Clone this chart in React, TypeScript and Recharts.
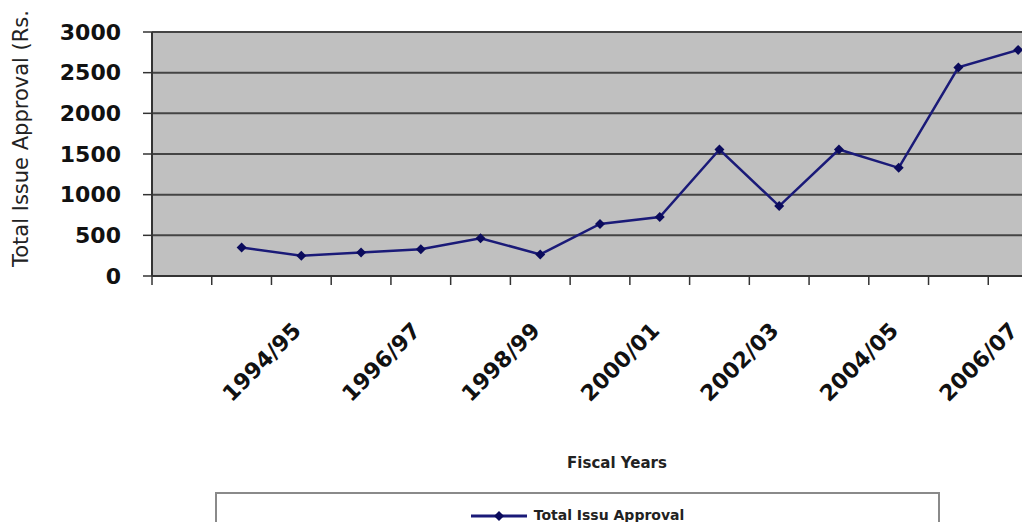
import { LineChart, Line, XAxis, YAxis, CartesianGrid, Legend } from 'recharts';

const fiscalYears = [
    '1993/94', '1994/95', '1995/96', '1996/97', '1997/98', '1998/99', '1999/00',
    '2000/01', '2001/02', '2002/03', '2003/04', '2004/05', '2005/06', '2006/07',
];
const approvals = [350, 250, 290, 330, 465, 265, 640, 725, 1555, 860, 1555, 1330, 2565, 2780];
const yTicks = [0, 500, 1000, 1500, 2000, 2500, 3000];
const seriesName = 'Total Issu Approval';

const FONT = '"DejaVu Sans", Arial, sans-serif';
const LINE = '#1a1a78';
const DOT = '#0b0b5c';

// one empty band before the first year, like the original sheet
const data = fiscalYears.map((fy, i) => ({ x: i + 0.5, fy, value: approvals[i] }));
const xTicks: number[] = [];
for (let i = -1; i <= fiscalYears.length; i++) {
    xTicks.push(i);
    if (i < fiscalYears.length) xTicks.push(i + 0.5);
}

const XTick = (props: any) => {
    const { x, y, payload } = props;
    const v = payload.value;
    if (Number.isInteger(v)) {
        return <line x1={x} y1={y} x2={x} y2={y + 9} stroke="#333" strokeWidth={1.5} />;
    }
    const idx = v - 0.5;
    if (idx < 0 || idx % 2 !== 1) return <g />;
    const tx = x + 1;
    const ty = y + 56;
    return (
        <text x={tx} y={ty} transform={`rotate(-45, ${tx}, ${ty})`} textAnchor="end"
            fontFamily={FONT} fontWeight="bold" fontSize={22} fill="#111">
            {fiscalYears[idx]}
        </text>
    );
};

const Diamond = (props: any) => {
    const { cx, cy, index } = props;
    if (cx == null || cy == null) return <g key={`d${index}`} />;
    const r = 5;
    return (
        <path key={`d${index}`} d={`M${cx},${cy - r}L${cx + r},${cy}L${cx},${cy + r}L${cx - r},${cy}Z`} fill={DOT} />
    );
};

const YTitle = (props: any) => {
    const { viewBox } = props;
    const tx = viewBox.x + 28;
    const ty = viewBox.y + 235;
    return (
        <text x={tx} y={ty} transform={`rotate(-90, ${tx}, ${ty})`} textAnchor="start"
            fontFamily={FONT} fontSize={21} fill="#222">
            Total Issue Approval (Rs.
        </text>
    );
};

const XTitle = (props: any) => {
    const { viewBox } = props;
    return (
        <text x={viewBox.x + viewBox.width / 2 + 17} y={viewBox.y + 192} textAnchor="middle"
            fontFamily={FONT} fontWeight="bold" fontSize={15} fill="#222">
            Fiscal Years
        </text>
    );
};

const LegendBox = () => (
    <div style={{
        width: 725, height: 60, boxSizing: 'border-box', border: '2px solid #8a8a8a', background: '#fff',
        display: 'flex', justifyContent: 'center', paddingTop: 13,
    }}>
        <svg width={58} height={12} style={{ marginRight: 5, marginTop: 3 }}>
            <line x1={0} y1={6} x2={56} y2={6} stroke={LINE} strokeWidth={3} />
            <path d="M28,1L33,6L28,11L23,6Z" fill={DOT} />
        </svg>
        <span style={{ fontFamily: FONT, fontWeight: 'bold', fontSize: 14, color: '#222' }}>{seriesName}</span>
    </div>
);

export default function App() {
    return (
        <div style={{ position: 'fixed', left: 0, top: 0, width: 1022, height: 522, overflow: 'hidden', background: '#fff' }}>
            <LineChart width={1060} height={522} data={data} margin={{ top: 32, right: 12, left: 0, bottom: 46 }}>
                <CartesianGrid vertical={false} fill="#c0c0c0" stroke="#444" strokeWidth={2} />
                <XAxis
                    type="number"
                    dataKey="x"
                    domain={[-1, fiscalYears.length]}
                    ticks={xTicks}
                    interval={0}
                    tickSize={0}
                    tickMargin={0}
                    tickLine={false}
                    tick={<XTick />}
                    axisLine={{ stroke: '#333', strokeWidth: 2 }}
                    height={200}
                    label={<XTitle />}
                />
                <YAxis
                    domain={[0, 3000]}
                    ticks={yTicks}
                    interval={0}
                    width={152}
                    tickSize={9}
                    tickMargin={22}
                    tickLine={{ stroke: '#333', strokeWidth: 1.5 }}
                    axisLine={{ stroke: '#333', strokeWidth: 2 }}
                    tick={{ fill: '#111', fontSize: 22, fontWeight: 'bold', fontFamily: FONT }}
                    label={<YTitle />}
                />
                <Legend
                    layout="vertical"
                    align="center"
                    verticalAlign="middle"
                    content={() => <LegendBox />}
                    wrapperStyle={{ position: 'absolute', left: 215, top: 492, width: 725, height: 60 }}
                />
                <Line
                    type="linear"
                    dataKey="value"
                    name={seriesName}
                    stroke={LINE}
                    strokeWidth={2.5}
                    dot={Diamond}
                    activeDot={false}
                    isAnimationActive={false}
                />
            </LineChart>
        </div>
    );
}
